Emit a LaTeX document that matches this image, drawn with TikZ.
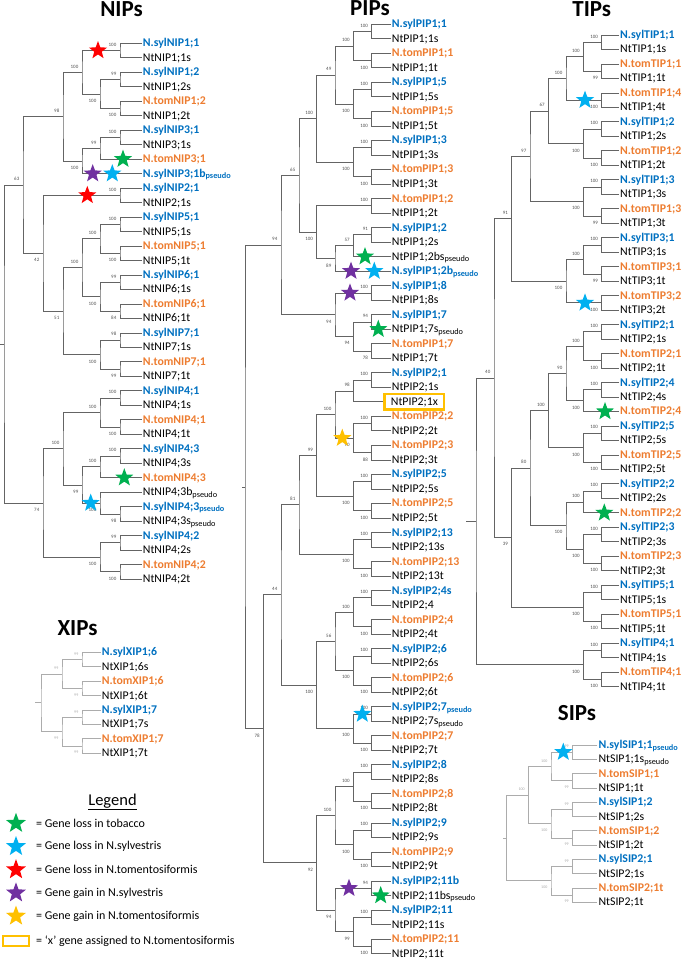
\documentclass[tikz,border=0pt]{standalone}
\usepackage{fontspec}
\setmainfont{Carlito}
\usetikzlibrary{shapes.geometric, calc}

\definecolor{sylblue}{RGB}{0,112,192}
\definecolor{tomorange}{RGB}{237,125,49}
\definecolor{lossgreen}{RGB}{0,176,80}
\definecolor{losscyan}{RGB}{0,176,240}
\definecolor{lossred}{RGB}{255,0,0}
\definecolor{gainpurple}{RGB}{112,48,160}
\definecolor{gaingold}{RGB}{255,192,0}
\definecolor{branchgray}{RGB}{100,100,100}
\definecolor{bsgray}{RGB}{80,80,80}

% clade: name, x, upper child, lower child, bootstrap, label side
\newcommand{\mkclade}[6]{%
  \path let \p1=(#3), \p2=(#4) in coordinate (#1) at (#2,{0.5*(\y1+\y2)});
  \draw[br] (#3) -| (#1) |- (#4);
  \node[#6] (#1bs) at (#1) {#5};
}
% root: name, x, upper child, lower child, x of stub end
\newcommand{\mkroot}[5]{%
  \path let \p1=(#3), \p2=(#4) in coordinate (#1) at (#2,{0.5*(\y1+\y2)});
  \draw[br] (#3) -| (#1) |- (#4);
  \coordinate (#1stub) at (#1 -| #5,0);
  \draw[br] (#1) -- (#1stub);
}

\begin{document}
\begin{tikzpicture}[
    x=1pt, y=-1pt,
    br/.style={draw=branchgray, line width=0.8pt},
    bs/.style={inner sep=0pt, font=\fontsize{5}{5}\selectfont, text=bsgray},
    bu/.style={bs, anchor=south east, xshift=-3.5pt, yshift=4pt},
    bd/.style={bs, anchor=north east, xshift=-3.5pt, yshift=-5pt},
    leaf/.style={anchor=west, inner sep=1pt, text height=8.5pt, text depth=1.5pt,
                 font=\fontsize{11.8}{13}\selectfont},
    sylv/.style={leaf, text=sylblue, font=\fontsize{11.8}{13}\selectfont\bfseries},
    tomt/.style={leaf, text=tomorange, font=\fontsize{11.8}{13}\selectfont\bfseries},
    ntab/.style={leaf},
    xbox/.style={leaf, draw=gaingold, line width=2.2pt, inner xsep=6.5pt, inner ysep=2.6pt, xshift=-7.4pt},
    gstar/.style={star, star points=5, star point ratio=2.4, minimum size=19pt, inner sep=0pt, fill=#1},
    title/.style={anchor=base, font=\fontsize{23}{26}\selectfont\bfseries},
    legtext/.style={anchor=west, inner sep=0pt, font=\fontsize{12}{14}\selectfont},
]
\useasboundingbox (0,0) rectangle (685,960);

% titles
\node[title] (tnip) at (121.5,17) {NIPs};
\node[title] (tpip) at (370,16) {PIPs};
\node[title] (ttip) at (591.7,17) {TIPs};
\node[title] (txip) at (77.5,635) {XIPs};
\node[title] (tsip) at (577,720) {SIPs};

% ---------------- NIPs ----------------
\foreach \lbl/\sty [count=\i] in {
  N.sylNIP1;1/sylv, NtNIP1;1s/ntab, N.sylNIP1;2/sylv, NtNIP1;2s/ntab,
  N.tomNIP1;2/tomt, NtNIP1;2t/ntab, N.sylNIP3;1/sylv, NtNIP3;1s/ntab,
  N.tomNIP3;1/tomt, N.sylNIP3;1b\textsubscript{pseudo}/sylv, N.sylNIP2;1/sylv, NtNIP2;1s/ntab,
  N.sylNIP5;1/sylv, NtNIP5;1s/ntab, N.tomNIP5;1/tomt, NtNIP5;1t/ntab,
  N.sylNIP6;1/sylv, NtNIP6;1s/ntab, N.tomNIP6;1/tomt, NtNIP6;1t/ntab,
  N.sylNIP7;1/sylv, NtNIP7;1s/ntab, N.tomNIP7;1/tomt, NtNIP7;1t/ntab,
  N.sylNIP4;1/sylv, NtNIP4;1s/ntab, N.tomNIP4;1/tomt, NtNIP4;1t/ntab,
  N.sylNIP4;3/sylv, NtNIP4;3s/ntab, N.tomNIP4;3/tomt, NtNIP4;3b\textsubscript{pseudo}/ntab,
  N.sylNIP4;3\textsubscript{pseudo}/sylv, NtNIP4;3s\textsubscript{pseudo}/ntab, N.sylNIP4;2/sylv, NtNIP4;2s/ntab,
  N.tomNIP4;2/tomt, NtNIP4;2t/ntab}
  \node[\sty] (n\i) at (141.7,{43.3+14.48*(\i-1)}) {\lbl};

\mkclade{nA1}{120}{n1}{n2}{100}{bu}
\mkclade{nA2}{120}{n3}{n4}{99}{bu}
\mkclade{nA3}{120}{n5}{n6}{100}{bd}
\mkclade{nA4}{100}{nA2}{nA3}{100}{bd}
\mkclade{nA5}{82}{nA1}{nA4}{100}{bu}
\mkclade{nB1}{120}{n7}{n8}{100}{bu}
\mkclade{nB2}{100}{nB1}{n9}{99}{bu}
\mkclade{nB3}{82}{nB2}{n10}{100}{bd}
\mkclade{nC1}{63}{nA5}{nB3}{98}{bu}
\mkclade{nF1}{120}{n11}{n12}{100}{bu}
\mkclade{nD1}{120}{n13}{n14}{100}{bu}
\mkclade{nD2}{120}{n15}{n16}{100}{bd}
\mkclade{nD3}{100}{nD1}{nD2}{100}{bu}
\mkclade{nD4}{120}{n17}{n18}{99}{bu}
\mkclade{nD5}{120}{n19}{n20}{84}{bd}
\mkclade{nD6}{100}{nD4}{nD5}{100}{bd}
\mkclade{nD7}{82}{nD3}{nD6}{100}{bu}
\mkclade{nE1}{120}{n21}{n22}{98}{bu}
\mkclade{nE2}{120}{n23}{n24}{99}{bd}
\mkclade{nE3}{100}{nE1}{nE2}{100}{bd}
\mkclade{nD8}{63}{nD7}{nE3}{51}{bd}
\mkclade{nF2}{43}{nF1}{nD8}{42}{bd}
\mkclade{nG1}{23}{nC1}{nF2}{63}{bu}
\mkclade{nH1}{120}{n25}{n26}{100}{bu}
\mkclade{nH2}{120}{n27}{n28}{100}{bd}
\mkclade{nH3}{100}{nH1}{nH2}{100}{bu}
\mkclade{nH4}{120}{n29}{n30}{100}{bu}
\mkclade{nH5}{100}{nH4}{n31}{100}{bu}
\mkclade{nH6}{120}{n33}{n34}{98}{bd}
\mkclade{nH7}{100}{n32}{nH6}{100}{bd}
\mkclade{nH8}{82}{nH5}{nH7}{99}{bd}
\mkclade{nH9}{63}{nH3}{nH8}{100}{bu}
\mkclade{nI1}{120}{n35}{n36}{99}{bu}
\mkclade{nI2}{120}{n37}{n38}{100}{bd}
\mkclade{nI3}{100}{nI1}{nI2}{100}{bd}
\mkclade{nI4}{43}{nH9}{nI3}{74}{bd}
\mkroot{nR}{4}{nG1}{nI4}{0}

% ---------------- XIPs ----------------
\begin{scope}[br/.style={draw=gray!65, line width=0.8pt},
              bs/.style={inner sep=0pt, font=\fontsize{4}{4}\selectfont, text=gray!70}]
\foreach \lbl/\sty [count=\i] in {
  N.sylXIP1;6/sylv, NtXIP1;6s/ntab, N.tomXIP1;6/tomt, NtXIP1;6t/ntab,
  N.sylXIP1;7/sylv, NtXIP1;7s/ntab, N.tomXIP1;7/tomt, NtXIP1;7t/ntab}
  \node[\sty] (x\i) at (100.7,{652.3+14.43*(\i-1)}) {\lbl};
\mkclade{xA1}{82}{x1}{x2}{99}{bu}
\mkclade{xA2}{82}{x3}{x4}{99}{bd}
\mkclade{xA3}{62}{xA1}{xA2}{99}{bu}
\mkclade{xB1}{82}{x5}{x6}{99}{bu}
\mkclade{xB2}{82}{x7}{x8}{99}{bd}
\mkclade{xB3}{62}{xB1}{xB2}{99}{bd}
\mkroot{xR}{41}{xA3}{xB3}{35}
\end{scope}

% ---------------- PIPs ----------------
\foreach \lbl/\sty [count=\i] in {
  N.sylPIP1;1/sylv, NtPIP1;1s/ntab, N.tomPIP1;1/tomt, NtPIP1;1t/ntab,
  N.sylPIP1;5/sylv, NtPIP1;5s/ntab, N.tomPIP1;5/tomt, NtPIP1;5t/ntab,
  N.sylPIP1;3/sylv, NtPIP1;3s/ntab, N.tomPIP1;3/tomt, NtPIP1;3t/ntab,
  N.tomPIP1;2/tomt, NtPIP1;2t/ntab, N.sylPIP1;2/sylv, NtPIP1;2s/ntab,
  NtPIP1;2bs\textsubscript{pseudo}/ntab, N.sylPIP1;2b\textsubscript{pseudo}/sylv, N.sylPIP1;8/sylv, NtPIP1;8s/ntab,
  N.sylPIP1;7/sylv, NtPIP1;7s\textsubscript{pseudo}/ntab, N.tomPIP1;7/tomt, NtPIP1;7t/ntab,
  N.sylPIP2;1/sylv, NtPIP2;1s/ntab, NtPIP2;1x/xbox, N.tomPIP2;2/tomt,
  NtPIP2;2t/ntab, N.tomPIP2;3/tomt, NtPIP2;3t/ntab, N.sylPIP2;5/sylv,
  NtPIP2;5s/ntab, N.tomPIP2;5/tomt, NtPIP2;5t/ntab, N.sylPIP2;13/sylv,
  NtPIP2;13s/ntab, N.tomPIP2;13/tomt, NtPIP2;13t/ntab, N.sylPIP2;4s/sylv,
  NtPIP2;4/ntab, N.tomPIP2;4/tomt, NtPIP2;4t/ntab, N.sylPIP2;6/sylv,
  NtPIP2;6s/ntab, N.tomPIP2;6/tomt, NtPIP2;6t/ntab, N.sylPIP2;7\textsubscript{pseudo}/sylv,
  NtPIP2;7s\textsubscript{pseudo}/ntab, N.tomPIP2;7/tomt, NtPIP2;7t/ntab, N.sylPIP2;8/sylv,
  NtPIP2;8s/ntab, N.tomPIP2;8/tomt, NtPIP2;8t/ntab, N.sylPIP2;9/sylv,
  NtPIP2;9s/ntab, N.tomPIP2;9/tomt, NtPIP2;9t/ntab, N.sylPIP2;11b/sylv,
  NtPIP2;11bs\textsubscript{pseudo}/ntab, N.sylPIP2;11/sylv, NtPIP2;11s/ntab, N.tomPIP2;11/tomt,
  NtPIP2;11t/ntab}
  \node[\sty] (p\i) at (390.7,{24.3+14.52*(\i-1)}) {\lbl};

\mkclade{pA1}{371.7}{p1}{p2}{100}{bu}
\mkclade{pA2}{371.7}{p3}{p4}{100}{bd}
\mkclade{pA3}{353.3}{pA1}{pA2}{100}{bu}
\mkclade{pA4}{371.7}{p5}{p6}{100}{bu}
\mkclade{pA5}{371.7}{p7}{p8}{100}{bd}
\mkclade{pA6}{353.3}{pA4}{pA5}{100}{bd}
\mkclade{pA7}{335}{pA3}{pA6}{49}{bu}
\mkclade{pA8}{371.7}{p9}{p10}{100}{bu}
\mkclade{pA9}{371.7}{p11}{p12}{100}{bd}
\mkclade{pA10}{353.3}{pA8}{pA9}{100}{bd}
\mkclade{pA11}{316.7}{pA7}{pA10}{100}{bu}
\mkclade{pB1}{371.7}{p13}{p14}{100}{bu}
\mkclade{pB2}{371.7}{p15}{p16}{91}{bu}
\mkclade{pB3}{353.3}{pB2}{p17}{57}{bu}
\mkclade{pB4}{335}{pB3}{p18}{89}{bd}
\mkclade{pB5}{316.7}{pB1}{pB4}{100}{bd}
\mkclade{pB6}{299}{pA11}{pB5}{65}{bu}
\mkclade{pC1}{371.7}{p19}{p20}{100}{bu}
\mkclade{pC2}{371.7}{p21}{p22}{94}{bu}
\mkclade{pC3}{371.7}{p23}{p24}{78}{bd}
\mkclade{pC4}{353.3}{pC2}{pC3}{94}{bd}
\mkclade{pC5}{335}{pC1}{pC4}{94}{bd}
\mkclade{pC6}{281}{pB6}{pC5}{94}{bu}
\mkclade{pD1}{371.7}{p25}{p26}{100}{bu}
\mkclade{pD2}{353.3}{pD1}{p27}{98}{bu}
\mkclade{pD3}{371.7}{p28}{p29}{100}{bu}
\mkclade{pD4}{371.7}{p30}{p31}{88}{bd}
\mkclade{pD5}{353.3}{pD3}{pD4}{90}{bd}
\mkclade{pD6}{335}{pD2}{pD5}{100}{bu}
\mkclade{pD7}{371.7}{p32}{p33}{100}{bu}
\mkclade{pD8}{371.7}{p34}{p35}{100}{bd}
\mkclade{pD9}{353.3}{pD7}{pD8}{100}{bd}
\mkclade{pD10}{316.7}{pD6}{pD9}{99}{bu}
\mkclade{pE1}{371.7}{p36}{p37}{100}{bu}
\mkclade{pE2}{371.7}{p38}{p39}{100}{bd}
\mkclade{pE3}{353.3}{pE1}{pE2}{100}{bd}
\mkclade{pE4}{299}{pD10}{pE3}{81}{bu}
\mkclade{pF1}{371.7}{p40}{p41}{100}{bu}
\mkclade{pF2}{371.7}{p42}{p43}{100}{bd}
\mkclade{pF3}{353.3}{pF1}{pF2}{100}{bu}
\mkclade{pF4}{371.7}{p44}{p45}{100}{bu}
\mkclade{pF5}{371.7}{p46}{p47}{100}{bd}
\mkclade{pF6}{353.3}{pF4}{pF5}{100}{bd}
\mkclade{pF7}{335}{pF3}{pF6}{56}{bu}
\mkclade{pF8}{371.7}{p48}{p49}{100}{bu}
\mkclade{pF9}{371.7}{p50}{p51}{100}{bd}
\mkclade{pF10}{353.3}{pF8}{pF9}{100}{bd}
\mkclade{pF11}{316.7}{pF7}{pF10}{100}{bd}
\mkclade{pF12}{281}{pE4}{pF11}{44}{bu}
\mkclade{pG1}{371.7}{p52}{p53}{100}{bu}
\mkclade{pG2}{371.7}{p54}{p55}{100}{bd}
\mkclade{pG3}{353.3}{pG1}{pG2}{100}{bu}
\mkclade{pG4}{371.7}{p56}{p57}{100}{bu}
\mkclade{pG5}{371.7}{p58}{p59}{100}{bd}
\mkclade{pG6}{353.3}{pG4}{pG5}{100}{bd}
\mkclade{pG7}{335}{pG3}{pG6}{100}{bu}
\mkclade{pG8}{371.7}{p60}{p61}{94}{bu}
\mkclade{pG9}{371.7}{p62}{p63}{100}{bu}
\mkclade{pG10}{371.7}{p64}{p65}{100}{bd}
\mkclade{pG11}{353.3}{pG9}{pG10}{99}{bd}
\mkclade{pG12}{335}{pG8}{pG11}{94}{bd}
\mkclade{pG13}{316.7}{pG7}{pG12}{92}{bd}
\mkclade{pH1}{263.3}{pF12}{pG13}{78}{bd}
\mkroot{pR}{245}{pC6}{pH1}{242}

% ---------------- TIPs ----------------
\foreach \lbl/\sty [count=\i] in {
  N.sylTIP1;1/sylv, NtTIP1;1s/ntab, N.tomTIP1;1/tomt, NtTIP1;1t/ntab,
  N.tomTIP1;4/tomt, NtTIP1;4t/ntab, N.sylTIP1;2/sylv, NtTIP1;2s/ntab,
  N.tomTIP1;2/tomt, NtTIP1;2t/ntab, N.sylTIP1;3/sylv, NtTIP1;3s/ntab,
  N.tomTIP1;3/tomt, NtTIP1;3t/ntab, N.sylTIP3;1/sylv, NtTIP3;1s/ntab,
  N.tomTIP3;1/tomt, NtTIP3;1t/ntab, N.tomTIP3;2/tomt, NtTIP3;2t/ntab,
  N.sylTIP2;1/sylv, NtTIP2;1s/ntab, N.tomTIP2;1/tomt, NtTIP2;1t/ntab,
  N.sylTIP2;4/sylv, NtTIP2;4s/ntab, N.tomTIP2;4/tomt, N.sylTIP2;5/sylv,
  NtTIP2;5s/ntab, N.tomTIP2;5/tomt, NtTIP2;5t/ntab, N.sylTIP2;2/sylv,
  NtTIP2;2s/ntab, N.tomTIP2;2/tomt, N.sylTIP2;3/sylv, NtTIP2;3s/ntab,
  N.tomTIP2;3/tomt, NtTIP2;3t/ntab, N.sylTIP5;1/sylv, NtTIP5;1s/ntab,
  N.tomTIP5;1/tomt, NtTIP5;1t/ntab, N.sylTIP4;1/sylv, NtTIP4;1s/ntab,
  N.tomTIP4;1/tomt, NtTIP4;1t/ntab}
  \node[\sty] (t\i) at (619,{35+14.48*(\i-1)}) {\lbl};

\mkclade{tA1}{601.7}{t1}{t2}{100}{bu}
\mkclade{tA2}{601.7}{t3}{t4}{99}{bd}
\mkclade{tA3}{583.3}{tA1}{tA2}{100}{bu}
\mkclade{tA4}{601.7}{t5}{t6}{100}{bd}
\mkclade{tA5}{566}{tA3}{tA4}{100}{bu}
\mkclade{tA6}{601.7}{t7}{t8}{100}{bu}
\mkclade{tA7}{601.7}{t9}{t10}{100}{bd}
\mkclade{tA8}{583.3}{tA6}{tA7}{100}{bd}
\mkclade{tA9}{548.3}{tA5}{tA8}{67}{bu}
\mkclade{tA10}{601.7}{t11}{t12}{100}{bu}
\mkclade{tA11}{601.7}{t13}{t14}{99}{bd}
\mkclade{tA12}{583.3}{tA10}{tA11}{100}{bd}
\mkclade{tA13}{530}{tA9}{tA12}{97}{bu}
\mkclade{tB1}{601.7}{t15}{t16}{100}{bu}
\mkclade{tB2}{601.7}{t17}{t18}{99}{bd}
\mkclade{tB3}{583.3}{tB1}{tB2}{100}{bu}
\mkclade{tB4}{601.7}{t19}{t20}{100}{bd}
\mkclade{tB5}{566}{tB3}{tB4}{100}{bd}
\mkclade{tB6}{511.7}{tA13}{tB5}{91}{bu}
\mkclade{tC1}{601.7}{t21}{t22}{100}{bu}
\mkclade{tC2}{601.7}{t23}{t24}{100}{bd}
\mkclade{tC3}{583.3}{tC1}{tC2}{100}{bu}
\mkclade{tC4}{601.7}{t25}{t26}{100}{bu}
\mkclade{tC5}{583.3}{tC4}{t27}{100}{bd}
\mkclade{tC6}{566}{tC3}{tC5}{90}{bu}
\mkclade{tC7}{601.7}{t28}{t29}{100}{bu}
\mkclade{tC8}{601.7}{t30}{t31}{100}{bd}
\mkclade{tC9}{583.3}{tC7}{tC8}{100}{bd}
\mkclade{tC10}{548.3}{tC6}{tC9}{100}{bu}
\mkclade{tD1}{601.7}{t32}{t33}{100}{bu}
\mkclade{tD2}{583.3}{tD1}{t34}{100}{bu}
\mkclade{tD3}{601.7}{t35}{t36}{100}{bu}
\mkclade{tD4}{601.7}{t37}{t38}{100}{bd}
\mkclade{tD5}{583.3}{tD3}{tD4}{100}{bd}
\mkclade{tD6}{566}{tD2}{tD5}{100}{bd}
\mkclade{tD7}{530}{tC10}{tD6}{80}{bu}
\mkclade{tE1}{601.7}{t39}{t40}{100}{bu}
\mkclade{tE2}{601.7}{t41}{t42}{100}{bd}
\mkclade{tE3}{583.3}{tE1}{tE2}{100}{bd}
\mkclade{tE4}{511.7}{tD7}{tE3}{39}{bd}
\mkclade{tF}{494}{tB6}{tE4}{40}{bu}
\mkclade{tG1}{601.7}{t43}{t44}{100}{bu}
\mkclade{tG2}{601.7}{t45}{t46}{100}{bd}
\mkclade{tG3}{583.3}{tG1}{tG2}{100}{bd}
\mkroot{tR}{476}{tF}{tG3}{466}

% ---------------- SIPs ----------------
\begin{scope}[br/.style={draw=gray!65, line width=0.8pt},
              bs/.style={inner sep=0pt, font=\fontsize{4}{4}\selectfont, text=gray!70}]
\foreach \lbl/\sty [count=\i] in {
  N.sylSIP1;1\textsubscript{pseudo}/sylv, NtSIP1;1s\textsubscript{pseudo}/ntab, N.tomSIP1;1/tomt, NtSIP1;1t/ntab,
  N.sylSIP1;2/sylv, NtSIP1;2s/ntab, N.tomSIP1;2/tomt, NtSIP1;2t/ntab,
  N.sylSIP2;1/sylv, NtSIP2;1s/ntab, N.tomSIP2;1t/tomt, NtSIP2;1t/ntab}
  \node[\sty] (s\i) at (597.3,{745+14.3*(\i-1)}) {\lbl};
\mkclade{sA1}{572.3}{s1}{s2}{99}{bu}
\mkclade{sA2}{572.3}{s3}{s4}{99}{bd}
\mkclade{sA3}{551}{sA1}{sA2}{100}{bu}
\mkclade{sB1}{572.3}{s5}{s6}{99}{bu}
\mkclade{sB2}{572.3}{s7}{s8}{99}{bd}
\mkclade{sB3}{551}{sB1}{sB2}{100}{bd}
\mkclade{sC}{528.3}{sA3}{sB3}{100}{bu}
\mkclade{sD1}{572.3}{s9}{s10}{99}{bu}
\mkclade{sD2}{572.3}{s11}{s12}{99}{bd}
\mkclade{sD3}{551}{sD1}{sD2}{100}{bd}
\mkroot{sR}{506.7}{sC}{sD3}{503}
\end{scope}

% gene loss / gain marks on the branches
\node[gstar=lossred]    (snr1) at (98,0 |- nA1) {};
\node[gstar=lossgreen]  (sng1) at (123,0 |- n9) {};
\node[gstar=gainpurple] (snp1) at (92.7,0 |- n10) {};
\node[gstar=losscyan]   (snc1) at (112.3,0 |- n10) {};
\node[gstar=lossred]    (snr2) at (87.3,0 |- nF1) {};
\node[gstar=lossgreen]  (sng2) at (124.3,0 |- n31) {};
\node[gstar=losscyan]   (snc2) at (90.7,0 |- nH7) {};
\node[gstar=lossgreen]  (spg1) at (365,0 |- p17) {};
\node[gstar=gainpurple] (spp1) at (351,0 |- p18) {};
\node[gstar=losscyan]   (spc1) at (374.3,0 |- p18) {};
\node[gstar=gainpurple] (spp2) at (350,0 |- pC1) {};
\node[gstar=lossgreen]  (spg2) at (378.3,0 |- p22) {};
\node[gstar=gaingold]   (spy1) at (342.3,0 |- pD5) {};
\node[gstar=losscyan]   (spc2) at (362.3,0 |- pF8) {};
\node[gstar=gainpurple] (spp3) at (349,0 |- pG8) {};
\node[gstar=lossgreen]  (spg3) at (380.7,0 |- p61) {};
\node[gstar=losscyan]   (stc1) at (585,0 |- tA4) {};
\node[gstar=losscyan]   (stc2) at (585,0 |- tB4) {};
\node[gstar=lossgreen]  (stg1) at (605,0 |- t27) {};
\node[gstar=lossgreen]  (stg2) at (604.3,0 |- t34) {};
\node[gstar=losscyan]   (ssc1) at (563.3,0 |- sA1) {};

% legend
\node[anchor=base, font=\fontsize{16.5}{18}\selectfont] (legtitle) at (112.5,805) {\underline{Legend}};
\foreach \c/\t [count=\k] in {lossgreen/Gene loss in tobacco, losscyan/Gene loss in N.sylvestris,
    lossred/Gene loss in N.tomentosiformis, gainpurple/Gene gain in N.sylvestris,
    gaingold/Gene gain in N.tomentosiformis} {
  \node[gstar=\c, minimum size=21pt] (lgs\k) at (16,{823.3+23.2*(\k-1)}) {};
  \node[legtext] (lgt\k) at (lgs\k -| 36,0) {= \t};
}
\node[draw=gaingold, line width=2.3pt, minimum width=25.7pt, minimum height=9.7pt, inner sep=0pt] (lgbox) at (16,941) {};
\node[legtext] (lgt6) at (lgbox -| 36,0) {= ‘x’ gene assigned to N.tomentosiformis};
\end{tikzpicture}
\end{document}
